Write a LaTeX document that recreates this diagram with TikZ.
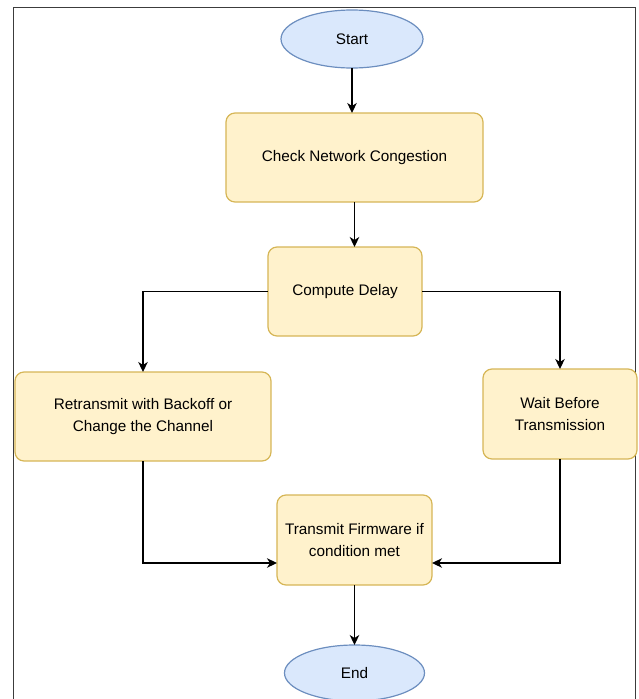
\documentclass[tikz,border=0pt]{standalone}
\usepackage{fontspec}
\setmainfont{Liberation Sans}
\usepackage{tikz}
\usetikzlibrary{
  arrows.meta,
  positioning,
  shapes.geometric
}
\definecolor{flowblue}{HTML}{DAE8FC}
\definecolor{flowblueline}{HTML}{6C8EBF}
\definecolor{flowyellow}{HTML}{FFF2CC}
\definecolor{flowyellowline}{HTML}{D6B656}
\definecolor{flowframe}{RGB}{60,60,60}
\tikzset{
  flowTerm/.style={
    ellipse,
    draw=flowblueline,
    fill=flowblue,
    line width=1.2pt,
    minimum width=142pt,
    minimum height=58pt,
    inner sep=0pt,
    outer sep=0pt,
    font=\fontsize{15.3}{21.5}\selectfont
  },
  flowStep/.style={
    rectangle,
    rounded corners=9pt,
    draw=flowyellowline,
    fill=flowyellow,
    line width=1.2pt,
    minimum width=154pt,
    minimum height=89pt,
    inner sep=0pt,
    outer sep=0pt,
    align=center,
    font=\fontsize{15.3}{21.5}\selectfont
  },
  flowArrow/.style={
    -{Stealth[length=10pt,width=9.5pt,inset=3pt]},
    line width=1.3pt,
    draw=black
  }
}

\begin{document}
\begin{tikzpicture}[node distance=45pt]
  \useasboundingbox (-352pt,39pt) rectangle (287pt,-660pt);
  \draw[flowframe, line width=1pt]
    (-338.5pt,-660pt) -- (-338.5pt,32pt) -- (283pt,32pt) -- (283pt,-660pt);

  \node[flowTerm] (start) {Start};
  \node[flowStep, minimum width=257pt, below=45pt of start, xshift=2.5pt] (check) {Check Network Congestion};
  \node[flowStep, below=45pt of check, xshift=-9.5pt] (delay) {Compute Delay};
  \node[flowStep, minimum width=256pt, below=36pt of delay, xshift=-202pt] (retrans)
    {Retransmit with Backoff or\\Change the Channel};
  \node[flowStep, minimum height=90pt, below=33pt of delay, xshift=215pt] (wait)
    {Wait Before\\Transmission};
  \node[flowStep, minimum width=155pt, minimum height=90pt, below=159pt of delay, xshift=9.5pt] (transmit)
    {Transmit Firmware if\\condition met};
  \node[flowTerm, minimum width=140pt, minimum height=56pt, below=60pt of transmit] (end) {End};

  \draw[flowArrow] (start.south) -- (start.south |- check.north);
  \draw[flowArrow] (check.south) -- (check.south |- delay.north);
  \draw[flowArrow] (delay.west) -| (retrans.north);
  \draw[flowArrow] (delay.east) -| (wait.north);
  \draw[flowArrow] (retrans.south) |- ([yshift=-23pt]transmit.west);
  \draw[flowArrow] (wait.south) |- ([yshift=-23pt]transmit.east);
  \draw[flowArrow] (transmit.south) -- (transmit.south |- end.north);
\end{tikzpicture}
\end{document}
